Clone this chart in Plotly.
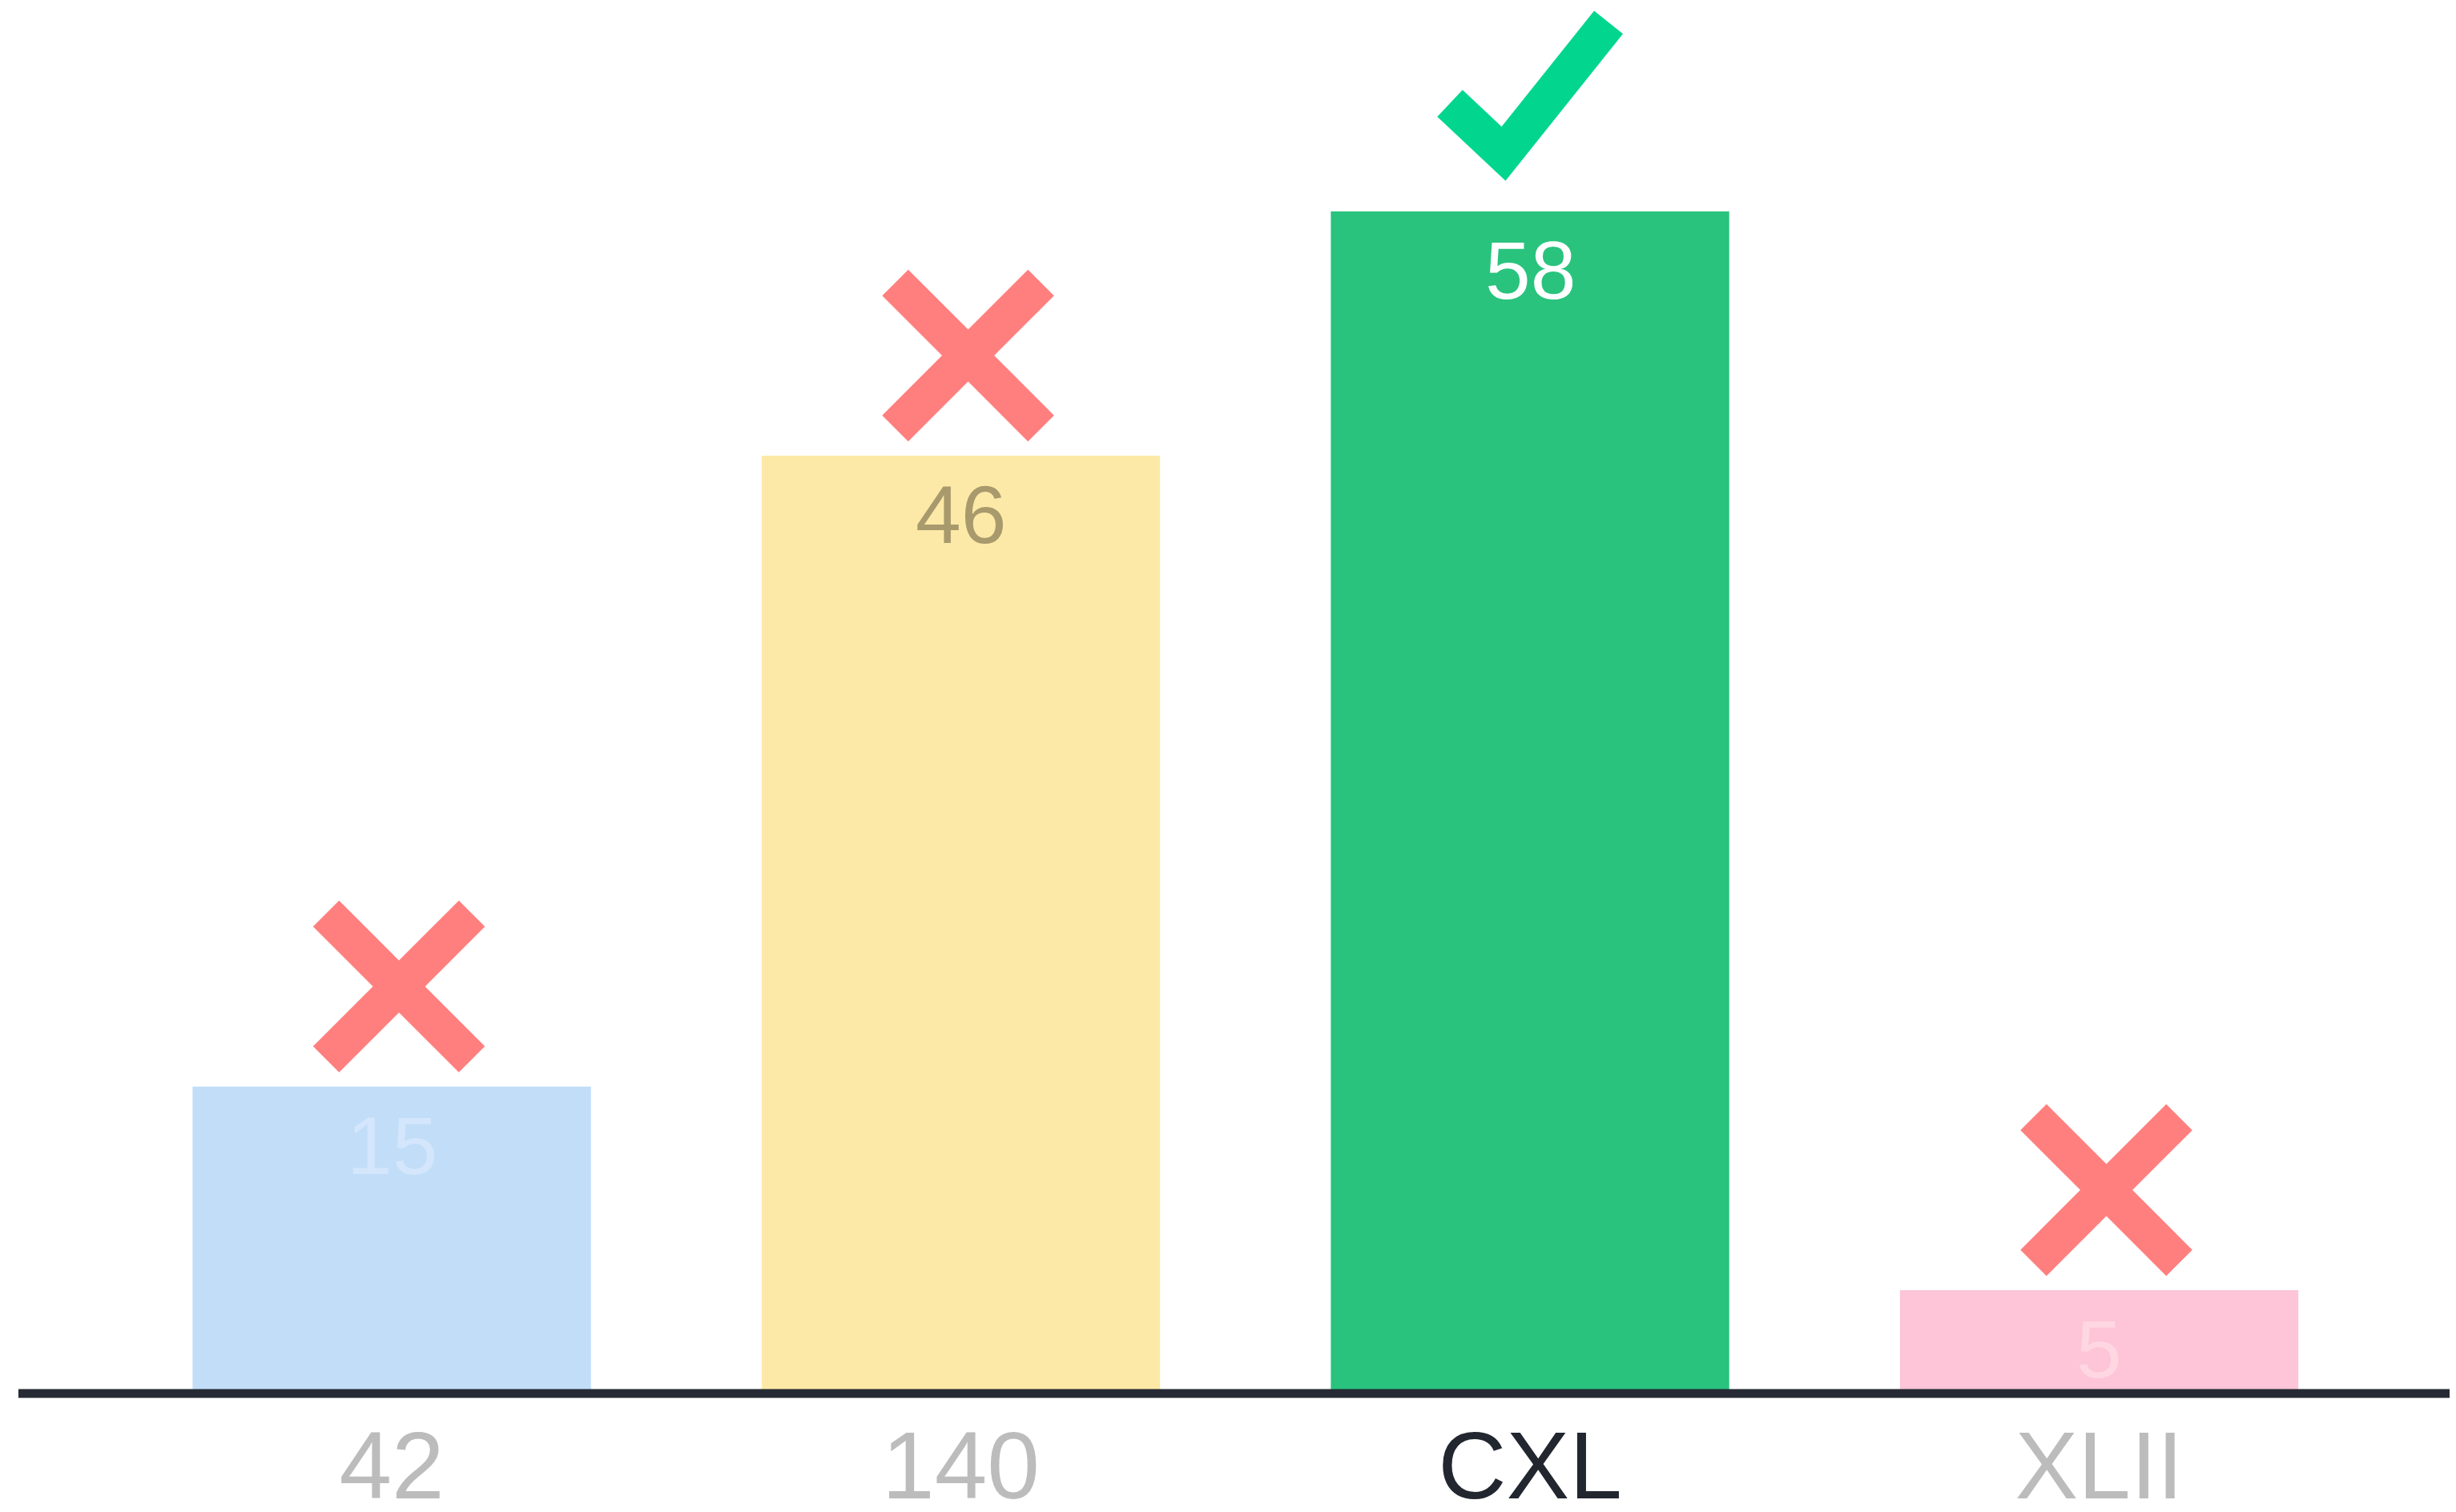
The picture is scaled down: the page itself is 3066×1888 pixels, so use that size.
import plotly.graph_objects as go

# ---- data ----
categories = ["42", "140", "CXL", "XLII"]
values = [15, 46, 58, 5]
is_correct = [False, False, True, False]
bar_colors = ["#c2ddf8", "#fde9a7", "#29c37e", "#fdc5d7"]
value_label_colors = ["#d3e6fb", "#a89a6c", "#ffffff", "#fed7e2"]
tick_colors = ["#bcbcbc", "#bcbcbc", "#22262f", "#bcbcbc"]

# ---- layout geometry (pixels; page body has an 8px margin) ----
W, H = 3058, 1880
M_L, M_R, M_T, M_B = 15, 0, 0, 150
X_RANGE = [-0.656, 3.627]
Y_RANGE = [0, 68.07]
plot_w = W - M_L - M_R
plot_h = H - M_T - M_B
px_per_x = plot_w / (X_RANGE[1] - X_RANGE[0])
px_per_y = plot_h / (Y_RANGE[1] - Y_RANGE[0])

xs = list(range(len(categories)))

fig = go.Figure()
fig.add_trace(go.Bar(
    x=xs, y=values, width=0.7,
    marker=dict(color=bar_colors, line=dict(width=0)),
    hoverinfo="skip", showlegend=False,
))

# cross marks above wrong answers
X_DX, X_DY, X_HALF = 9, 125, 91   # px
cx, cy = [], []
for i, (v, ok) in enumerate(zip(values, is_correct)):
    if ok:
        continue
    x0 = i + X_DX / px_per_x
    y0 = v + X_DY / px_per_y
    hx = X_HALF / px_per_x
    hy = X_HALF / px_per_y
    cx += [x0 - hx, x0 + hx, None, x0 - hx, x0 + hx, None]
    cy += [y0 + hy, y0 - hy, None, y0 - hy, y0 + hy, None]
fig.add_trace(go.Scatter(
    x=cx, y=cy, mode="lines",
    line=dict(color="#ff7f7f", width=46),
    hoverinfo="skip", showlegend=False,
))

# check mark above correct answer
CHK = [(-100, 135), (-33, 72), (98, 236)]  # px offsets from bar top centre
kx, ky = [], []
for i, (v, ok) in enumerate(zip(values, is_correct)):
    if not ok:
        continue
    for dx, dy in CHK:
        kx.append(i + dx / px_per_x)
        ky.append(v + dy / px_per_y)
    kx.append(None)
    ky.append(None)
fig.add_trace(go.Scatter(
    x=kx, y=ky, mode="lines",
    line=dict(color="#02d68e", width=46),
    hoverinfo="skip", showlegend=False,
))

# value labels inside bars
for i, v in enumerate(values):
    fig.add_annotation(
        x=i, y=v, text=str(v), showarrow=False,
        xanchor="center", yanchor="top", yshift=-15,
        font=dict(family="Liberation Sans, Arial, sans-serif", size=102,
                  color=value_label_colors[i]),
    )

# baseline along the x axis
fig.add_shape(type="line", xref="paper", yref="paper", x0=0, x1=1,
              ysizemode="pixel", yanchor=0, y0=-2, y1=-2,
              line=dict(color="#252a35", width=11), layer="above")

ticktext = [f'<span style="color:{c}">{t}</span>' for t, c in zip(categories, tick_colors)]

fig.update_layout(
    width=W, height=H,
    margin=dict(l=M_L, r=M_R, t=M_T, b=M_B, pad=0, autoexpand=False),
    paper_bgcolor="#ffffff", plot_bgcolor="#ffffff",
    bargap=0.3,
    font=dict(family="Liberation Sans, Arial, sans-serif"),
    xaxis=dict(
        range=X_RANGE, tickvals=xs, ticktext=ticktext,
        showgrid=False, zeroline=False, automargin=False,
        showline=False,
        ticks="", ticklabelstandoff=14,
        tickfont=dict(size=118, color="#bcbcbc"),
    ),
    yaxis=dict(
        range=Y_RANGE, visible=False, showgrid=False, zeroline=False,
        automargin=False,
    ),
)

fig.write_html("out.html")
